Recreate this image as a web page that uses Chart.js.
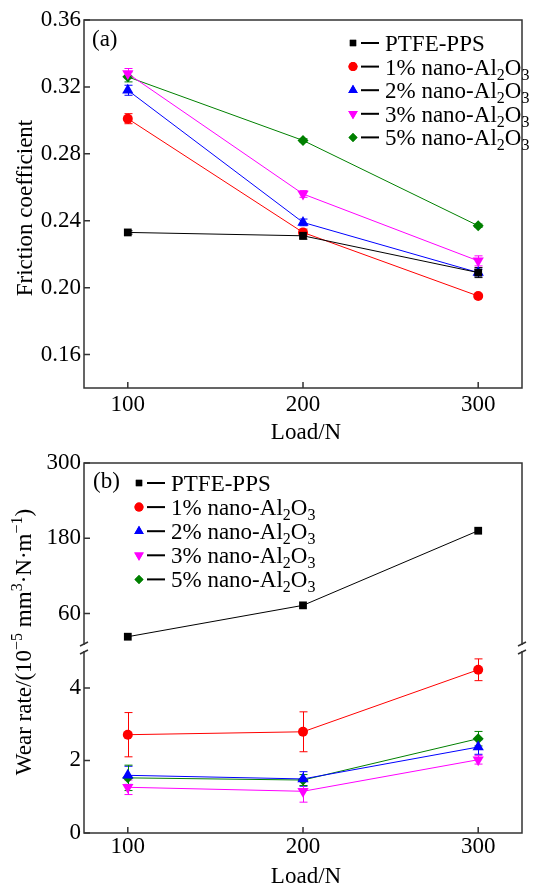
<!DOCTYPE html>
<html>
<head>
<meta charset="utf-8">
<script src="https://cdn.jsdelivr.net/npm/chart.js@4/dist/chart.umd.min.js"></script>
<style>
  html, body { margin: 0; padding: 0; background: #fff; }
  canvas { display: block; }
</style>
</head>
<body>
<canvas id="frictionChart" width="550" height="445"></canvas>
<canvas id="wearChart" width="550" height="439"></canvas>
<script>
// loads on the x axis
const loads = [100, 200, 300];
const seriesNames = ['PTFE-PPS', '1% nano-Al2O3', '2% nano-Al2O3', '3% nano-Al2O3', '5% nano-Al2O3'];

// (a) friction coefficient
const frictionPPS = [0.233, 0.231, 0.209];
const friction1 = [0.301, 0.233, 0.195];
const friction2 = [0.318, 0.239, 0.209];
const friction3 = [0.328, 0.256, 0.216];
const friction5 = [0.326, 0.288, 0.237];
const frictionErrPPS = [0.001, 0.002, 0.003];
const frictionErr1 = [0.003, 0.002, 0.001];
const frictionErr2 = [0.003, 0.002, 0.002];
const frictionErr3 = [0.003, 0.002, 0.003];
const frictionErr5 = [0.003, 0.001, 0.001];

// (b) wear rate, 10^-5 mm3/(N m)
const wearPPS = [23, 73, 192];
const wear1 = [2.71, 2.79, 4.5];
const wear2 = [1.59, 1.49, 2.37];
const wear3 = [1.26, 1.15, 2.02];
const wear5 = [1.52, 1.46, 2.6];
const wearErrPPS = [0, 0, 0];
const wearErr1 = [0.61, 0.55, 0.3];
const wearErr2 = [0.25, 0.2, 0.2];
const wearErr3 = [0.2, 0.3, 0.12];
const wearErr5 = [0.35, 0.15, 0.2];

// tick labels
const loadTicks = [100, 200, 300];
const frictionTicks = [0.16, 0.20, 0.24, 0.28, 0.32, 0.36];
const wearLowTicks = [0, 2, 4];
const wearHighTicks = [60, 180, 300];

const colors = ['#000000', '#ff0000', '#0000ff', '#ff00ff', '#008000'];
const shapes = ['rect', 'circle', 'triangle', 'triangle', 'rectRot'];
const turns = [0, 0, 0, 180, 0];
const radii = [5.5, 5, 6.5, 6.5, 5.5];
const FONT = "'Liberation Serif', 'Times New Roman', serif";

function makeSets(values, errors, axisIds) {
    return values.map((vals, i) => ({
        label: seriesNames[i],
        data: loads.map((x, j) => ({ x: x, y: vals[j] })),
        errors: errors[i],
        yAxisID: axisIds[i],
        borderColor: colors[i],
        backgroundColor: colors[i],
        borderWidth: 1,
        pointStyle: shapes[i],
        pointRotation: turns[i],
        pointRadius: radii[i],
        pointBorderWidth: 0,
        tension: 0
    }));
}

// split "Al2O3" style labels into normal / subscript pieces
function labelParts(text) {
    const parts = [];
    for (let i = 0; i < text.length; i++) {
        const ch = text[i];
        const sub = /\d/.test(ch) && i > 0 && /[A-Za-z]/.test(text[i - 1]) ? -1 : 0;
        if (parts.length && parts[parts.length - 1][1] === sub) parts[parts.length - 1][0] += ch;
        else parts.push([ch, sub]);
    }
    return parts;
}

function drawRich(ctx, parts, x, y, size, align) {
    const small = Math.round(size * 0.68);
    let total = 0;
    parts.forEach(p => {
        ctx.font = (p[1] ? small : size) + 'px ' + FONT;
        total += ctx.measureText(p[0]).width;
    });
    let cx = align === 'center' ? x - total / 2 : x;
    ctx.textAlign = 'left';
    ctx.textBaseline = 'alphabetic';
    parts.forEach(p => {
        ctx.font = (p[1] ? small : size) + 'px ' + FONT;
        const dy = p[1] === 1 ? -size * 0.38 : p[1] === -1 ? size * 0.22 : 0;
        ctx.fillText(p[0], cx, y + dy);
        cx += ctx.measureText(p[0]).width;
    });
}

function drawMarker(ctx, i, x, y, r) {
    ctx.fillStyle = colors[i];
    Chart.helpers.drawPoint(ctx, { pointStyle: shapes[i], rotation: turns[i], radius: r, borderWidth: 0 }, x, y);
    ctx.fill();
}

const frame = {
    id: 'frame',
    beforeDatasetsDraw(chart) {
        // error bars
        const ctx = chart.ctx;
        ctx.save();
        ctx.lineWidth = 1;
        chart.data.datasets.forEach(ds => {
            const xs = chart.scales.x, ys = chart.scales[ds.yAxisID];
            ctx.strokeStyle = ds.borderColor;
            ds.data.forEach((p, j) => {
                const e = ds.errors[j];
                if (!e) return;
                const px = Math.round(xs.getPixelForValue(p.x)) + 0.5;
                const y1 = ys.getPixelForValue(p.y - e), y2 = ys.getPixelForValue(p.y + e);
                ctx.beginPath();
                ctx.moveTo(px, y1); ctx.lineTo(px, y2);
                ctx.moveTo(px - 4, y1); ctx.lineTo(px + 4, y1);
                ctx.moveTo(px - 4, y2); ctx.lineTo(px + 4, y2);
                ctx.stroke();
            });
        });
        ctx.restore();
    },
    afterDraw(chart, args, opts) {
        const ctx = chart.ctx;
        const { left, right, top, bottom } = chart.chartArea;
        ctx.save();
        ctx.strokeStyle = '#333';
        ctx.lineWidth = 1.5;
        ctx.strokeRect(left, top, right - left, bottom - top);
        ctx.beginPath();
        chart.scales.x.ticks.forEach(t => {
            const px = chart.scales.x.getPixelForValue(t.value);
            ctx.moveTo(px, bottom); ctx.lineTo(px, bottom - 6);
        });
        Object.values(chart.scales).forEach(s => {
            if (s.axis !== 'y') return;
            s.ticks.forEach(t => {
                const py = s.getPixelForValue(t.value);
                ctx.moveTo(left, py); ctx.lineTo(left + 6, py);
            });
        });
        ctx.stroke();

        // axis break
        if (chart.scales.yHigh) {
            const yb = chart.scales.yLow.top;
            ctx.fillStyle = '#fff';
            [left, right].forEach(xb => {
                ctx.fillRect(xb - 2, yb - 3, 4, 6);
                ctx.beginPath();
                ctx.moveTo(xb - 4, yb - 2); ctx.lineTo(xb + 4, yb - 6);
                ctx.moveTo(xb - 4, yb + 6); ctx.lineTo(xb + 4, yb + 2);
                ctx.stroke();
            });
        }

        ctx.fillStyle = '#000';
        ctx.font = '23px ' + FONT;
        ctx.textAlign = 'left';
        ctx.textBaseline = 'middle';
        ctx.fillText(opts.tag, opts.tagX, opts.tagY);

        // legend
        chart.data.datasets.forEach((ds, i) => {
            const cy = opts.legY + i * opts.legStep;
            drawMarker(ctx, i, opts.legX, cy, i === 2 || i === 3 ? 5.5 : 4.5);
            ctx.fillStyle = '#000';
            ctx.fillRect(opts.legX + 8, cy - 1, 18, 2);
            drawRich(ctx, labelParts(ds.label), opts.legX + 32, cy + 8, 23, 'left');
        });

        // axis titles
        ctx.fillStyle = '#000';
        drawRich(ctx, [['Load/N', 0]], 306, opts.xTitleY, 23, 'center');
        ctx.translate(opts.yTitleX, opts.yTitleY);
        ctx.rotate(-Math.PI / 2);
        drawRich(ctx, opts.yTitle, 0, 0, 23, 'center');
        ctx.restore();
    }
};

const tickFont = { family: FONT, size: 23 };
function xScale(height, pad) {
    return {
        type: 'linear', min: 75, max: 325,
        afterBuildTicks: s => { s.ticks = loadTicks.map(v => ({ value: v })); },
        afterFit: s => { s.height = height; },
        grid: { display: false, drawTicks: false },
        border: { display: false },
        ticks: { font: tickFont, color: '#000', padding: pad }
    };
}
function yScale(min, max, list, digits, extra) {
    return Object.assign({
        type: 'linear', min: min, max: max,
        afterBuildTicks: s => { s.ticks = list.map(v => ({ value: v })); },
        afterFit: s => { s.width = 84; },
        grid: { display: false, drawTicks: false },
        border: { display: false },
        ticks: { font: tickFont, color: '#000', padding: 3, callback: v => v.toFixed(digits) }
    }, extra || {});
}

new Chart(document.getElementById('frictionChart'), {
    type: 'line',
    data: {
        datasets: makeSets([frictionPPS, friction1, friction2, friction3, friction5],
            [frictionErrPPS, frictionErr1, frictionErr2, frictionErr3, frictionErr5],
            ['y', 'y', 'y', 'y', 'y'])
    },
    options: {
        responsive: false,
        animation: false,
        devicePixelRatio: 1,
        layout: { padding: { left: 0, right: 28, top: 20, bottom: 0 } },
        plugins: {
            legend: { display: false },
            tooltip: { enabled: false },
            frame: {
                tag: '(a)', tagX: 92, tagY: 40,
                legX: 353, legY: 43, legStep: 23.6,
                xTitleY: 439,
                yTitleX: 32, yTitleY: 208,
                yTitle: [['Friction coefficient', 0]]
            }
        },
        scales: {
            x: xScale(57, 3),
            y: yScale(0.14, 0.36, frictionTicks, 2)
        }
    },
    plugins: [frame]
});

new Chart(document.getElementById('wearChart'), {
    type: 'line',
    data: {
        datasets: makeSets([wearPPS, wear1, wear2, wear3, wear5],
            [wearErrPPS, wearErr1, wearErr2, wearErr3, wearErr5],
            ['yHigh', 'yLow', 'yLow', 'yLow', 'yLow'])
    },
    options: {
        responsive: false,
        animation: false,
        devicePixelRatio: 1,
        layout: { padding: { left: 0, right: 28, top: 18, bottom: 0 } },
        plugins: {
            legend: { display: false },
            tooltip: { enabled: false },
            frame: {
                tag: '(b)', tagX: 93, tagY: 37,
                legX: 139, legY: 38, legStep: 24.1,
                xTitleY: 438,
                yTitleX: 31, yTitleY: 197,
                yTitle: [['Wear rate/(10', 0], ['\u22125', 1], [' mm', 0], ['3', 1], ['\u00b7N\u00b7m', 0], ['\u22121', 1], [')', 0]]
            }
        },
        scales: {
            x: xScale(51, 0),
            yLow: yScale(0, 5.1, wearLowTicks, 0, { position: 'left', stack: 'wear', stackWeight: 1 }),
            yHigh: yScale(5, 300, wearHighTicks, 0, { position: 'left', stack: 'wear', stackWeight: 1 })
        }
    },
    plugins: [frame]
});
</script>
</body>
</html>
